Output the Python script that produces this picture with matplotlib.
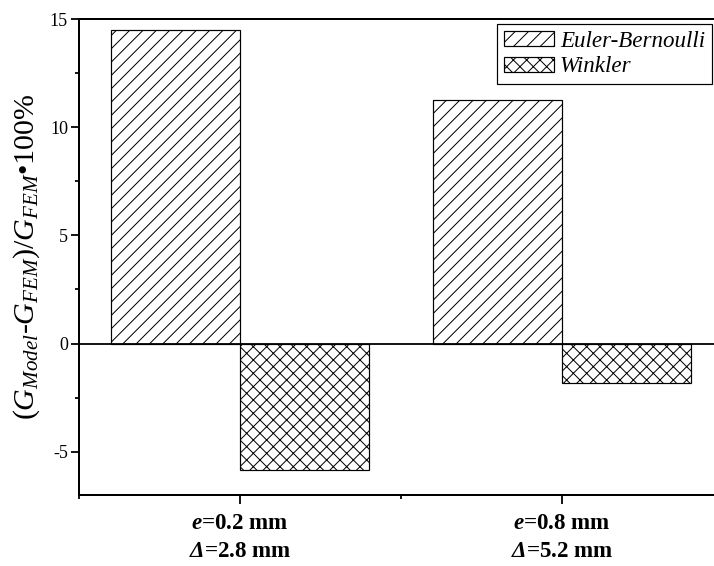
import matplotlib
matplotlib.use('Agg')
import matplotlib.pyplot as plt
from matplotlib.ticker import MultipleLocator

# data
groups = [r'$\mathbfit{e}$=0.2 mm' + '\n' + r'$\mathbfit{Δ}$=2.8 mm',
          r'$\mathbfit{e}$=0.8 mm' + '\n' + r'$\mathbfit{Δ}$=5.2 mm']
euler = [14.47, 11.24]
winkler = [-5.86, -1.84]
series_names = ['Euler-Bernoulli', 'Winkler']

DPI = 160
def pt(px):
    return px * 72.0 / DPI

plt.rcParams['font.family'] = ['Liberation Serif', 'DejaVu Serif']
plt.rcParams['mathtext.fontset'] = 'custom'
plt.rcParams['mathtext.rm'] = 'Liberation Serif'
plt.rcParams['mathtext.it'] = 'Liberation Serif:italic'
plt.rcParams['mathtext.bf'] = 'Liberation Serif:bold'
plt.rcParams['mathtext.bfit'] = 'Liberation Serif:italic:bold'
plt.rcParams['axes.unicode_minus'] = False
plt.rcParams['hatch.linewidth'] = pt(1.0)

fig = plt.figure(figsize=(714 / DPI, 566 / DPI), dpi=DPI)
ax = fig.add_axes([79 / 714, 1 - 495 / 566, 644 / 714, 476 / 566])

x = [1, 2]
w = 0.4
ax.bar([i - w / 2 for i in x], euler, w, color='white', edgecolor='black',
       hatch='////', linewidth=pt(1.2), label=series_names[0])
ax.bar([i + w / 2 for i in x], winkler, w, color='white', edgecolor='black',
       hatch='xxxx', linewidth=pt(1.2), label=series_names[1])
ax.axhline(0, color='black', linewidth=pt(1.8), zorder=3)

ax.set_xlim(0.5, 2.5)
ax.set_ylim(-7, 15)
ax.xaxis.set_minor_locator(MultipleLocator(0.5))
ax.yaxis.set_major_locator(MultipleLocator(5))
ax.yaxis.set_minor_locator(MultipleLocator(2.5))
ax.tick_params(axis='both', which='major', direction='out', length=pt(8),
               width=pt(1.8), pad=pt(3))
ax.tick_params(axis='y', which='major', labelsize=pt(18))
ax.tick_params(axis='both', which='minor', direction='out', length=pt(4),
               width=pt(1.8))
ax.tick_params(axis='x', which='major', length=pt(9), pad=pt(9))
ax.set_xticks(x)
ax.set_xticklabels(groups, fontsize=pt(23), fontweight='bold', linespacing=1.45)

for s in ['left', 'bottom', 'top', 'right']:
    ax.spines[s].set_linewidth(pt(2))

ax.set_ylabel(r'$(G_{Model}$-$G_{FEM})/G_{FEM}$•100%', fontsize=pt(30), labelpad=pt(8))

leg = ax.legend(loc='upper right', bbox_to_anchor=(712 / 714, 1 - 24 / 566),
                bbox_transform=fig.transFigure, borderaxespad=0,
                prop={'style': 'italic', 'size': pt(23)}, fancybox=False,
                edgecolor='black', framealpha=1, handlelength=2.2,
                handleheight=0.6, borderpad=0.3, labelspacing=0.2,
                handletextpad=0.25)
leg.get_frame().set_linewidth(pt(1.2))

fig.savefig('out.png', dpi=DPI)
